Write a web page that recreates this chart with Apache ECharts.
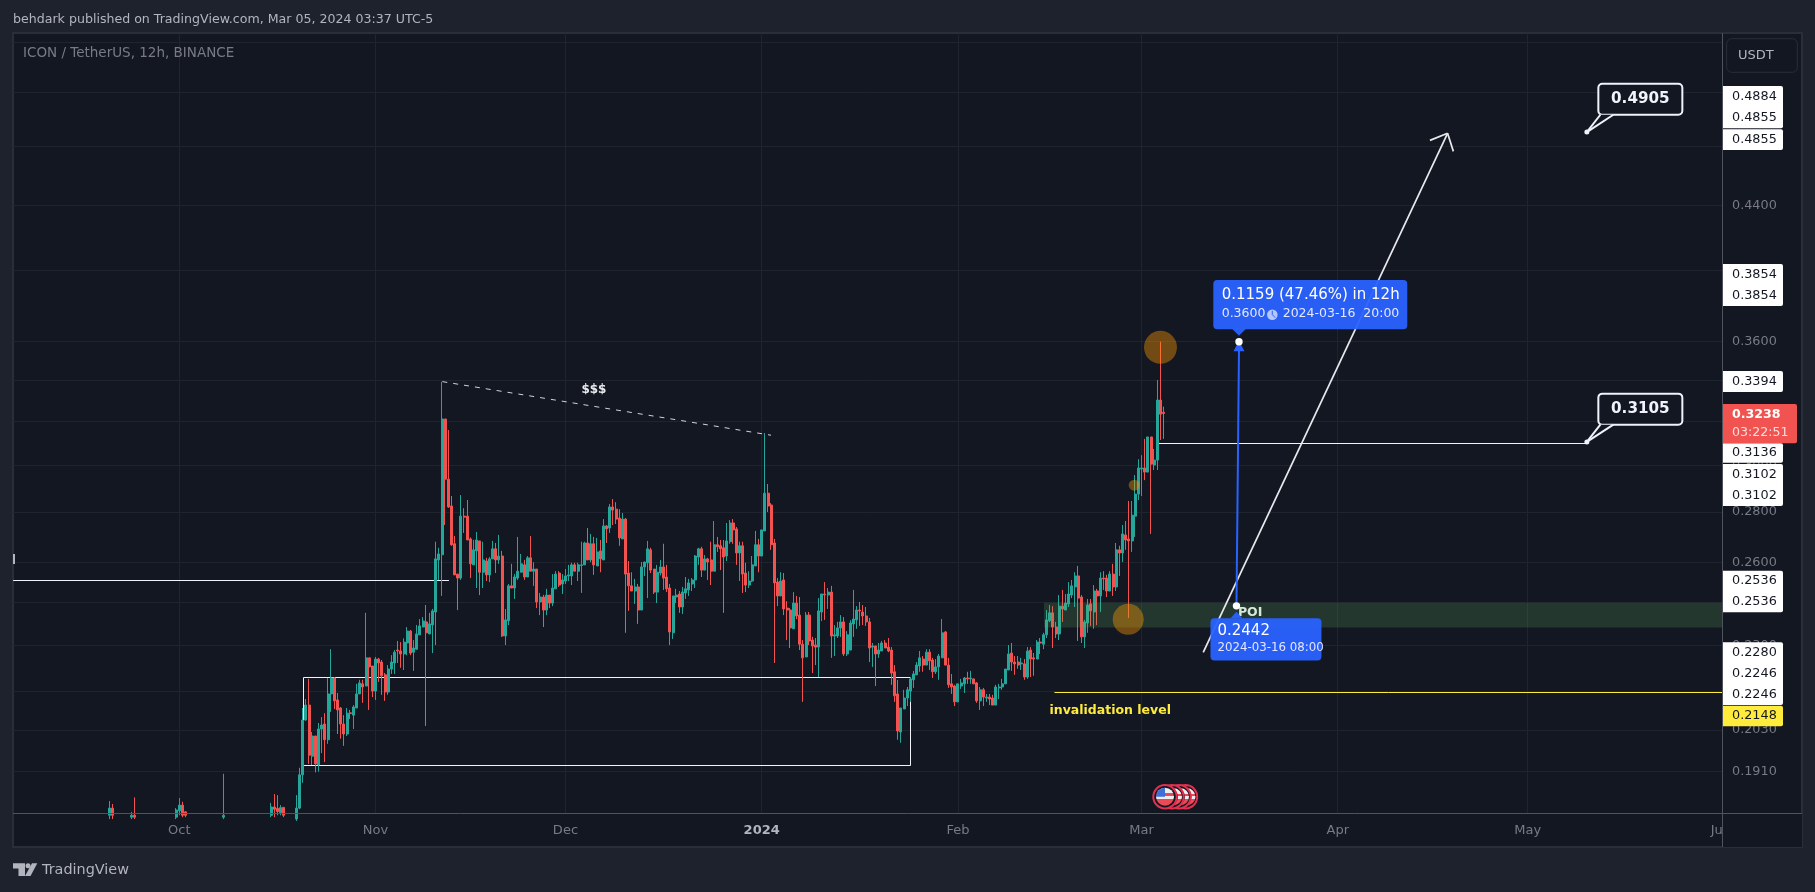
<!DOCTYPE html>
<html><head><meta charset="utf-8">
<style>html,body{margin:0;padding:0;background:#1e222d}#c{width:1815px;height:892px}</style>
<script src="https://cdn.jsdelivr.net/npm/echarts@6/dist/echarts.min.js"></script>
</head><body><div id="c"></div>
<script>
// ---- data ----
const earlySlots = [-22,-21,-15,-14,-1,0,1,2,14,29,30,31,32,33,37];
const earlyOpens = [.1790,.1809,.1785,.1790,.1785,.1802,.1817,.1799,.1785,.1790,.1812,.1808,.1797,.1811,.1780];
const earlyCloses = [.1809,.1790,.1790,.1785,.1804,.1817,.1790,.1790,.1790,.1812,.1806,.1800,.1810,.1790,.1809];
const earlyHighs = [.1828,.1820,.1799,.1838,.1809,.1836,.1826,.1800,.1903,.1823,.1847,.1844,.1817,.1811,.1844];
const earlyLows = [.1780,.1780,.1780,.1780,.1780,.1790,.1785,.1785,.1780,.1785,.1785,.1790,.1790,.1785,.1775];
const firstRunSlot = 38;
const opens = [
.1809,.1900,.2060,.2106,.1953,.2012,.1928,.2033,.2048,.2001,
.2141,.2192,.2122,.2097,.2048,.2018,.2082,.2075,.2097,.2141,
.2173,.2166,.2258,.2231,.2150,.2254,.2244,.2202,.2147,.2221,
.2241,.2284,.2281,.2271,.2308,.2349,.2277,.2287,.2336,.2363,
.2381,.2339,.2370,.2416,.2609,.2629,.3212,.2939,.2825,.2672,
.2555,.2540,.2783,.2783,.2691,.2590,.2644,.2683,.2562,.2605,
.2552,.2613,.2652,.2609,.2624,.2332,.2385,.2511,.2503,.2540,
.2562,.2590,.2544,.2617,.2566,.2574,.2452,.2470,.2423,.2477,
.2448,.2500,.2559,.2518,.2529,.2548,.2548,.2590,.2566,.2588,
.2590,.2675,.2609,.2672,.2586,.2644,.2609,.2743,.2735,.2821,
.2812,.2775,.2691,.2771,.2559,.2511,.2492,.2507,.2423,.2582,
.2598,.2648,.2574,.2488,.2559,.2582,.2544,.2503,.2343,.2470,
.2481,.2434,.2485,.2496,.2518,.2533,.2620,.2652,.2570,.2613,
.2609,.2566,.2668,.2664,.2656,.2624,.2680,.2755,.2731,.2636,
.2664,.2559,.2514,.2529,.2586,.2668,.2624,.2723,.2879,.2829,
.2675,.2525,.2474,.2533,.2430,.2423,.2357,.2448,.2405,.2304,
.2261,.2405,.2318,.2301,.2294,.2416,.2481,.2477,.2488,.2332,
.2332,.2360,.2381,.2271,.2284,.2374,.2388,.2423,.2416,.2402,
.2381,.2294,.2298,.2271,.2281,.2308,.2294,.2284,.2212,.2141,
.2024,.2094,.2128,.2150,.2186,.2202,.2231,.2254,.2234,.2277,
.2251,.2212,.2228,.2258,.2346,.2234,.2173,.2166,.2116,.2166,
.2173,.2192,.2189,.2189,.2176,.2119,.2154,.2128,.2131,.2128,
.2106,.2160,.2163,.2173,.2218,.2274,.2244,.2244,.2238,.2238,
.2195,.2284,.2258,.2254,.2311,.2304,.2336,.2385,.2413,.2363,
.2339,.2437,.2423,.2445,.2477,.2507,.2548,.2470,.2329,.2377,
.2445,.2416,.2492,.2474,.2540,.2540,.2492,.2555,.2507,.2648,
.2636,.2707,.2691,.2683,.2783,.2875,.2984,.2988,.2970,.3128,
.3001,.3023,.3303,.3244];
const closes = [
.1900,.2060,.2106,.1956,.2012,.1931,.2033,.2045,.2001,.2141,
.2192,.2119,.2091,.2048,.2018,.2081,.2080,.2100,.2141,.2176,
.2163,.2258,.2228,.2150,.2254,.2241,.2199,.2147,.2221,.2244,
.2277,.2281,.2271,.2311,.2349,.2274,.2291,.2339,.2367,.2384,
.2343,.2374,.2420,.2613,.2632,.3212,.2939,.2821,.2668,.2552,
.2540,.2783,.2779,.2687,.2594,.2648,.2687,.2562,.2609,.2552,
.2613,.2652,.2609,.2624,.2332,.2388,.2511,.2503,.2544,.2566,
.2594,.2544,.2617,.2566,.2574,.2452,.2470,.2423,.2477,.2448,
.2503,.2555,.2514,.2533,.2548,.2552,.2590,.2566,.2590,.2590,
.2675,.2609,.2672,.2590,.2640,.2613,.2743,.2731,.2821,.2808,
.2771,.2695,.2771,.2555,.2511,.2492,.2507,.2423,.2582,.2601,
.2652,.2570,.2488,.2562,.2582,.2540,.2500,.2346,.2474,.2477,
.2434,.2488,.2500,.2522,.2533,.2624,.2652,.2570,.2613,.2601,
.2566,.2668,.2660,.2652,.2620,.2683,.2755,.2727,.2636,.2664,
.2555,.2514,.2529,.2590,.2668,.2624,.2727,.2879,.2825,.2668,
.2522,.2474,.2529,.2427,.2423,.2360,.2448,.2402,.2304,.2258,
.2405,.2315,.2298,.2294,.2420,.2481,.2478,.2488,.2332,.2336,
.2360,.2381,.2271,.2336,.2377,.2391,.2423,.2420,.2402,.2381,
.2291,.2298,.2271,.2284,.2308,.2291,.2281,.2208,.2135,.2027,
.2097,.2128,.2154,.2189,.2205,.2234,.2258,.2234,.2277,.2248,
.2212,.2228,.2264,.2343,.2234,.2170,.2163,.2116,.2173,.2176,
.2192,.2189,.2192,.2173,.2119,.2154,.2131,.2131,.2125,.2106,
.2163,.2163,.2173,.2221,.2271,.2244,.2238,.2234,.2241,.2195,
.2281,.2254,.2254,.2311,.2308,.2336,.2388,.2413,.2363,.2339,
.2437,.2427,.2448,.2481,.2511,.2548,.2466,.2329,.2381,.2441,
.2420,.2492,.2474,.2540,.2537,.2492,.2555,.2507,.2648,.2636,
.2711,.2687,.2683,.2787,.2875,.2988,.2988,.2970,.3128,.3005,
.3023,.3303,.3235,.3238];
const highs = [
.1920,.2097,.2125,.2189,.2024,.2012,.2051,.2069,.2081,.2192,
.2287,.2195,.2144,.2100,.2075,.2097,.2091,.2106,.2173,.2186,
.2186,.2413,.2258,.2231,.2261,.2258,.2251,.2208,.2234,.2267,
.2284,.2315,.2311,.2324,.2363,.2353,.2318,.2370,.2391,.2398,
.2441,.2413,.2427,.2680,.2656,.3393,.3212,.3160,.2867,.2703,
.2555,.2871,.2816,.2850,.2697,.2687,.2719,.2683,.2680,.2617,
.2620,.2683,.2675,.2707,.2644,.2427,.2518,.2594,.2555,.2699,
.2632,.2609,.2624,.2703,.2600,.2574,.2485,.2478,.2500,.2477,
.2555,.2566,.2566,.2555,.2574,.2590,.2598,.2598,.2598,.2680,
.2680,.2735,.2711,.2699,.2695,.2687,.2771,.2747,.2833,.2854,
.2841,.2812,.2796,.2775,.2605,.2562,.2537,.2518,.2601,.2601,
.2683,.2656,.2574,.2590,.2609,.2672,.2590,.2518,.2474,.2500,
.2492,.2507,.2544,.2537,.2540,.2628,.2656,.2660,.2628,.2617,
.2680,.2763,.2699,.2687,.2687,.2755,.2767,.2771,.2739,.2680,
.2680,.2598,.2566,.2624,.2723,.2691,.2727,.3146,.2918,.2837,
.2691,.2540,.2562,.2559,.2455,.2430,.2488,.2474,.2470,.2318,
.2416,.2416,.2329,.2325,.2466,.2481,.2525,.2503,.2511,.2370,
.2381,.2405,.2398,.2349,.2387,.2496,.2437,.2452,.2441,.2434,
.2395,.2308,.2298,.2308,.2315,.2318,.2325,.2294,.2234,.2186,
.2097,.2154,.2163,.2195,.2215,.2244,.2281,.2264,.2287,.2287,
.2258,.2254,.2271,.2391,.2349,.2258,.2205,.2170,.2173,.2189,
.2195,.2212,.2215,.2189,.2179,.2163,.2160,.2141,.2141,.2138,
.2170,.2173,.2189,.2221,.2301,.2308,.2264,.2264,.2258,.2254,
.2294,.2294,.2274,.2318,.2325,.2343,.2423,.2441,.2437,.2381,
.2477,.2496,.2481,.2525,.2533,.2562,.2586,.2477,.2388,.2463,
.2463,.2514,.2500,.2562,.2566,.2552,.2566,.2594,.2675,.2664,
.2747,.2763,.2846,.2846,.2957,.3027,.3045,.3119,.3128,.3128,
.3073,.3402,.3600,.3271];
const lows = [
.1806,.1878,.2058,.1931,.1928,.1907,.1909,.1962,.1936,.1989,
.2085,.2094,.2018,.2004,.1983,.2012,.2063,.2033,.2097,.2141,
.2113,.2166,.2091,.2131,.2122,.2179,.2138,.2119,.2138,.2205,
.2205,.2241,.2225,.2218,.2267,.2267,.2215,.2285,.2336,.2363,
.2042,.2339,.2274,.2301,.2533,.2474,.2747,.2817,.2664,.2552,
.2423,.2533,.2715,.2687,.2540,.2590,.2503,.2477,.2503,.2529,
.2525,.2613,.2559,.2594,.2329,.2301,.2370,.2503,.2463,.2533,
.2562,.2533,.2544,.2566,.2511,.2430,.2405,.2363,.2405,.2430,
.2437,.2500,.2507,.2481,.2518,.2529,.2514,.2566,.2529,.2485,
.2590,.2609,.2600,.2552,.2586,.2562,.2609,.2675,.2715,.2747,
.2751,.2664,.2691,.2343,.2420,.2492,.2445,.2374,.2423,.2548,
.2466,.2559,.2481,.2448,.2550,.2496,.2488,.2301,.2322,.2448,
.2413,.2409,.2463,.2474,.2492,.2503,.2590,.2544,.2570,.2533,
.2514,.2566,.2640,.2570,.2413,.2605,.2672,.2672,.2590,.2529,
.2485,.2488,.2503,.2525,.2586,.2562,.2624,.2723,.2800,.2648,
.2241,.2437,.2474,.2405,.2318,.2291,.2357,.2391,.2284,.2116,
.2261,.2301,.2208,.2234,.2195,.2384,.2388,.2427,.2258,.2264,
.2325,.2329,.2264,.2264,.2284,.2329,.2357,.2367,.2370,.2367,
.2244,.2228,.2166,.2258,.2281,.2291,.2277,.2170,.2116,.2001,
.1992,.2094,.2103,.2116,.2160,.2202,.2212,.2212,.2234,.2218,
.2192,.2205,.2186,.2258,.2234,.2160,.2141,.2103,.2116,.2157,
.2144,.2173,.2173,.2173,.2113,.2091,.2103,.2116,.2106,.2106,
.2106,.2125,.2154,.2173,.2218,.2215,.2202,.2222,.2218,.2186,
.2189,.2195,.2199,.2254,.2271,.2287,.2325,.2380,.2291,.2325,
.2318,.2381,.2423,.2434,.2466,.2434,.2315,.2308,.2291,.2343,
.2367,.2357,.2370,.2416,.2496,.2470,.2492,.2474,.2492,.2548,
.2601,.2648,.2395,.2640,.2699,.2850,.2867,.2935,.2970,.2711,
.2979,.2979,.3114,.3119];
const monthLabels = ['Oct','Nov','Dec','2024','Feb','Mar','Apr','May'];
const monthSlots = [0,62,122,184,246,304,366,426];
const gridPrices = [.56,.52,.48,.44,.40,.36,.34,.32,.30,.28,.26,.245,.23,.215,.203,.191];
const labelPrices = [.52,.48,.44,.40,.36,.34,.32,.30,.28,.26,.245,.23,.215,.203,.191];
const priceTagTexts = ['0.4884','0.4855','0.4855','0.3854','0.3854','0.3394','0.3136','0.3102','0.3102','0.2536','0.2536','0.2280','0.2246','0.2246'];
// drawings, as [half-day slot, price]
const dashedTrend = [[83.1,.3394],[186.95,.3136]];
const leftLevel = [[-52.5,.2532],[85.2,.2532]];
const rangeBox = [[39.2,.2192],[231,.1924]];
const targetLevel = [[308.9,.3099],[444.7,.3099]];
const invalidationLevel = [[276.5,.2146],[487.4,.2146]];
const poiZone = [[273.2,.2449],[487.4,.2361]];
const wickCircles = [[310,.3570],[299.8,.2390],[301.7,.2913]];
const measureArrow = [[334,.2438],[334.8,.3600]];
const pathArrow = [[323.5,.2276],[400.7,.4896]];
const calloutPoints = [[444.7,.4905],[444.7,.3105]];
const calloutTexts = ['0.4905','0.3105'];
const moneyAnchor = [131,.3355];

// ---- helpers / layout ----
const F = '"DejaVu Sans",sans-serif';
const SLOT = 43200000, T0 = Date.UTC(2023,9,1);
const t = n => T0 + n*SLOT;
const rows = [];
earlySlots.forEach((n,i)=>rows.push([t(n),earlyOpens[i],earlyCloses[i],earlyLows[i],earlyHighs[i]]));
opens.forEach((o,i)=>rows.push([t(firstRunSlot+i),o,closes[i],lows[i],highs[i]]));
const pt = (api,p) => api.coord([t(p[0]),p[1]]);
const crisp = v => Math.floor(v)+.5;
const seg = (a,b,stroke,lineWidth,lineDash) => ({type:'line',shape:{x1:a[0],y1:a[1],x2:b[0],y2:b[1]},style:{stroke,lineWidth,lineDash:lineDash||null,fill:null}});
const txt = (x,y,text,font,fill,align) => ({type:'text',style:{x,y,text,font,fill,align:align||'left',verticalAlign:'middle'}});
const rct = (x,y,w,h,fill,stroke,lw,r) => ({type:'rect',shape:{x,y,width:w,height:h,r:r||0},style:{fill,stroke:stroke||null,lineWidth:lw||0}});
const cir = (x,y,r,fill,stroke,lw) => ({type:'circle',shape:{cx:x,cy:y,r},style:{fill,stroke:stroke||null,lineWidth:lw||0}});
const poly = (points,fill,stroke,lw) => ({type:'polygon',shape:{points},style:{fill,stroke:stroke||null,lineWidth:lw||0}});

function renderUnder(params,api){
  const ch=[];
  let a=pt(api,dashedTrend[0]),b=pt(api,dashedTrend[1]);
  ch.push(seg(a,b,'#d1d4dc',1,[5,6]));
  a=pt(api,leftLevel[0]);b=pt(api,leftLevel[1]);
  ch.push(seg([a[0],crisp(a[1])],[b[0],crisp(b[1])],'#f0f3fa',1));
  a=pt(api,rangeBox[0]);b=pt(api,rangeBox[1]);
  ch.push({type:'rect',shape:{x:crisp(a[0]),y:crisp(a[1]),width:Math.round(b[0]-a[0]),height:Math.round(b[1]-a[1])},style:{fill:null,stroke:'#f0f3fa',lineWidth:1}});
  a=pt(api,targetLevel[0]);b=pt(api,targetLevel[1]);
  ch.push(seg([a[0],crisp(a[1])],[b[0],crisp(b[1])],'#f0f3fa',1));
  a=pt(api,invalidationLevel[0]);b=pt(api,invalidationLevel[1]);
  ch.push(seg([a[0],crisp(a[1])],[b[0],crisp(b[1])],'#ffeb3b',1));
  return {type:'group',children:ch};
}
function renderOver(params,api){
  const ch=[];
  let a=pt(api,poiZone[0]),b=pt(api,poiZone[1]);
  ch.push(rct(a[0],a[1],b[0]-a[0],b[1]-a[1],'rgba(104,183,99,0.2)'));
  const radii=[16.5,15.5,5.5];
  wickCircles.forEach((c,i)=>{const p=pt(api,c);ch.push(cir(p[0],p[1],radii[i],'rgba(255,152,0,0.4)'));});
  // white path arrow
  a=pt(api,pathArrow[0]);b=pt(api,pathArrow[1]);
  ch.push(seg(a,b,'#e8e9ec',1.7));
  const ang=Math.atan2(a[1]-b[1],a[0]-b[0]);
  [43,-43].forEach(d=>{const q=ang+d*Math.PI/180;ch.push(seg(b,[b[0]+19*Math.cos(q),b[1]+19*Math.sin(q)],'#e8e9ec',1.7));});
  // POI text
  const s=pt(api,measureArrow[0]),e=pt(api,measureArrow[1]);
  ch.push(txt(s[0]+1.5,s[1]+7,'POI','bold 12.5px '+F,'#d6e8d8'));
  // blue measure arrow
  ch.push(seg(s,[e[0],e[1]+8],'#2962ff',2));
  ch.push(poly([[e[0],e[1]-1],[e[0]-5.5,e[1]+9.5],[e[0]+5.5,e[1]+9.5]],'#2962ff'));
  // tooltips
  const B='rgba(41,98,255,0.95)';
  ch.push(poly([[e[0]-7,e[1]-13],[e[0]+7,e[1]-13],[e[0],e[1]-6]],B));
  ch.push(rct(e[0]-25.7,e[1]-61.7,194,49.3,B,null,0,4));
  ch.push(txt(e[0]-17.3,e[1]-46.7,'0.1159 (47.46%) in 12h','15px '+F,'#fff'));
  ch.push(txt(e[0]-17.3,e[1]-27.7,'0.3600','12.5px '+F,'#e3e8ff'));
  ch.push(cir(e[0]+33.3,e[1]-27,5.3,'rgba(255,255,255,0.65)'));
  ch.push(seg([e[0]+33.3,e[1]-31],[e[0]+33.3,e[1]-27],'#2962ff',1));
  ch.push(seg([e[0]+33.3,e[1]-27],[e[0]+36.3,e[1]-24],'#2962ff',1));
  ch.push(txt(e[0]+43.7,e[1]-27.7,'2024-03-16  20:00','12.5px '+F,'#e3e8ff'));
  ch.push(poly([[s[0]-6,s[1]+12.5],[s[0]+6,s[1]+12.5],[s[0],s[1]+6]],B));
  ch.push(rct(s[0]-26,s[1]+12.3,111,42.4,B,null,0,4));
  ch.push(txt(s[0]-19,s[1]+25.7,'0.2442','15px '+F,'#fff'));
  ch.push(txt(s[0]-19,s[1]+41.7,'2024-03-16 08:00','11.8px '+F,'#e3e8ff'));
  ch.push(cir(s[0],s[1],3.7,'#fff'));
  ch.push(cir(e[0],e[1],3.7,'#fff'));
  // callouts
  calloutPoints.forEach((c,i)=>{
    const p=pt(api,c);
    ch.push(rct(p[0]+11.5,p[1]-48.3,84,31,'#131722','#f0f3fa',2,4));
    ch.push(poly([[p[0],p[1]],[p[0]+13.5,p[1]-17.3],[p[0]+26.5,p[1]-17.3]],'#131722',null,0));
    ch.push(seg(p,[p[0]+13.5,p[1]-17.3],'#f0f3fa',2));
    ch.push(seg(p,[p[0]+26.5,p[1]-17.3],'#f0f3fa',2));
    ch.push(cir(p[0],p[1],2.5,'#f0f3fa'));
    ch.push(txt(p[0]+53.5,p[1]-33,calloutTexts[i],'bold 15.2px '+F,'#f0f3fa','center'));
  });
  // text labels
  const m=pt(api,moneyAnchor);
  ch.push(txt(m[0],m[1],'$$$','bold 12px '+F,'#e8e9ec','center'));
  const inv=pt(api,invalidationLevel[0]);
  ch.push(txt(inv[0]-5,inv[1]+18.5,'invalidation level','bold 12.5px '+F,'#ffeb3b'));
  return {type:'group',children:ch};
}

// price-axis tags stacked as TradingView stacks them
const tagCenters=[97,117.3,139.5,275,295.7,382,452.7,475,495.7,581,602,653,674,695];
const tagBlocks=[[86,128.3],[129.3,150],[264,306],[371,392],[443.3,462.7],[464,506],[570.7,612.3],[642.3,705]];
const G=[];
const C='#131722', GRID='#2a2e39', AX='#50535e', TXT='#787b86';
G.push({type:'rect',z:-5,shape:{x:13,y:33,width:1789,height:814},style:{fill:C,stroke:GRID,lineWidth:2}});
G.push({type:'text',z:200,x:13,y:19.7,style:{text:'behdark published on TradingView.com, Mar 05, 2024 03:37 UTC-5',font:'12.6px '+F,fill:'#b2b5be',verticalAlign:'middle'}});
G.push({type:'text',z:200,x:23,y:53.5,style:{text:'ICON / TetherUS, 12h, BINANCE',font:'13.5px '+F,fill:TXT,verticalAlign:'middle'}});
G.push({type:'rect',z:200,shape:{x:13,y:554,width:2,height:10},style:{fill:'#b2b5be'}});
G.push({type:'rect',z:100,shape:{x:1723,y:814,width:79,height:33},style:{fill:C}});
G.push({type:'text',z:99,x:1710.7,y:830.7,style:{text:'Ju',font:'13px '+F,fill:TXT,verticalAlign:'middle'}});
G.push({type:'line',z:101,shape:{x1:13,y1:813.5,x2:1802,y2:813.5},style:{stroke:AX,lineWidth:1}});
G.push({type:'line',z:101,shape:{x1:1722.5,y1:33,x2:1722.5,y2:847},style:{stroke:AX,lineWidth:1}});
G.push({type:'rect',z:150,shape:{x:1726.7,y:38.7,width:70.6,height:33.6,r:5},style:{fill:C,stroke:GRID,lineWidth:1}});
G.push({type:'text',z:151,x:1738,y:55.5,style:{text:'USDT',font:'13px '+F,fill:'#b2b5be',verticalAlign:'middle'}});
tagBlocks.forEach(b=>G.push({type:'rect',z:150,shape:{x:1723,y:b[0],width:60,height:b[1]-b[0],r:[0,2,2,0]},style:{fill:'#fff'}}));
priceTagTexts.forEach((s,i)=>G.push({type:'text',z:151,x:1732,y:tagCenters[i],style:{text:s,font:'12.8px '+F,fill:C,verticalAlign:'middle'}}));
G.push({type:'rect',z:150,shape:{x:1723,y:705.7,width:60,height:20.5,r:[0,2,2,0]},style:{fill:'#ffeb3b'}});
G.push({type:'text',z:151,x:1732,y:716,style:{text:'0.2148',font:'12.8px '+F,fill:C,verticalAlign:'middle'}});
G.push({type:'rect',z:152,shape:{x:1723,y:404,width:74,height:39.3,r:[0,2,2,0]},style:{fill:'#f05350'}});
G.push({type:'text',z:153,x:1732,y:415,style:{text:'0.3238',font:'bold 12.6px '+F,fill:'#fff',verticalAlign:'middle'}});
G.push({type:'text',z:153,x:1732,y:432.7,style:{text:'03:22:51',font:'12.6px '+F,fill:'#ffdcdc',verticalAlign:'middle'}});
// TradingView mark and wordmark
G.push({type:'polygon',z:200,shape:{points:[[13,863.3],[25,863.3],[25,876],[18.5,876],[18.5,868.5],[13,868.5]]},style:{fill:'#b2b5be'}});
G.push({type:'circle',z:200,shape:{cx:28,cy:865.7,r:2.5},style:{fill:'#b2b5be'}});
G.push({type:'polygon',z:200,shape:{points:[[32,863.3],[37.3,863.3],[30.5,876],[25,876]]},style:{fill:'#b2b5be'}});
G.push({type:'text',z:200,x:42,y:870.5,style:{text:'TradingView',font:'14.4px '+F,fill:'#b2b5be',verticalAlign:'middle'}});
// economic-event badge
const ring=(x,z)=>G.push({type:'circle',z,shape:{cx:x,cy:796.7,r:11.7},style:{fill:C,stroke:'#e0314f',lineWidth:2}});
const stripes={type:'linear',x:0,y:0,x2:0,y2:1,colorStops:[[0,'#eee'],[.32,'#eee'],[.32,'#ea4a55'],[.48,'#ea4a55'],[.48,'#eee'],[.64,'#eee'],[.64,'#ea4a55'],[1,'#ea4a55']].map(s=>({offset:s[0],color:s[1]}))};
[[1185.5,30],[1179,31],[1172,32]].forEach(r=>{ring(r[0],r[1]);G.push({type:'circle',z:r[1],shape:{cx:r[0]+1.5,cy:796.7,r:8.5},style:{fill:stripes}});G.push({type:'circle',z:r[1],shape:{cx:r[0]-2.5,cy:796.7,r:8.5},style:{fill:C}});});
ring(1165,33);
G.push({type:'circle',z:34,shape:{cx:1165,cy:796.7,r:9},style:{fill:stripes}});
G.push({type:'sector',z:35,shape:{cx:1165,cy:796.7,r:9,r0:0,startAngle:Math.PI,endAngle:Math.PI*1.5},style:{fill:'#3f6fd8'}});

const monthTimes = monthSlots.map(t);
const chart=echarts.init(document.getElementById('c'),null,{renderer:'canvas'});
chart.setOption({
  animation:false,
  backgroundColor:'#1e222d',
  graphic:{elements:G},
  grid:{left:13,right:93,top:33,bottom:79,containLabel:false},
  xAxis:{type:'value',min:t(-52.54),max:t(487.4),
    axisLine:{show:false},
    axisTick:{show:false,customValues:monthTimes},
    splitLine:{show:true,lineStyle:{color:'#20242f',width:1}},
    axisLabel:{customValues:monthTimes,margin:11,color:TXT,fontFamily:F,fontSize:13,
      formatter:(v)=>{const s=monthLabels[monthTimes.indexOf(+v)];return s==='2024'?'{b|2024}':s;},
      rich:{b:{fontFamily:F,fontSize:13,fontWeight:'bold',color:'#b2b5be'}}}},
  yAxis:{type:'log',position:'right',logBase:10,min:.1796,max:.56768,
    axisLine:{show:false},
    axisTick:{show:false,customValues:gridPrices},
    splitLine:{show:true,lineStyle:{color:'#20242f',width:1}},
    axisLabel:{customValues:labelPrices,margin:10,color:TXT,fontFamily:F,fontSize:12.8,
      formatter:v=>(+v).toFixed(4)}},
  series:[
    {type:'custom',z:1,silent:true,clip:false,data:[[t(0),.3]],renderItem:renderUnder},
    {type:'candlestick',z:2,silent:true,layout:'horizontal',barWidth:2.5,data:rows,encode:{x:0,y:[1,2,3,4]},
      itemStyle:{color:'#26a69a',color0:'#f25350',borderColor:'#26a69a',borderColor0:'#f25350',borderWidth:1}},
    {type:'custom',z:3,silent:true,clip:false,data:[[t(0),.3]],renderItem:renderOver}
  ]
});
</script></body></html>
